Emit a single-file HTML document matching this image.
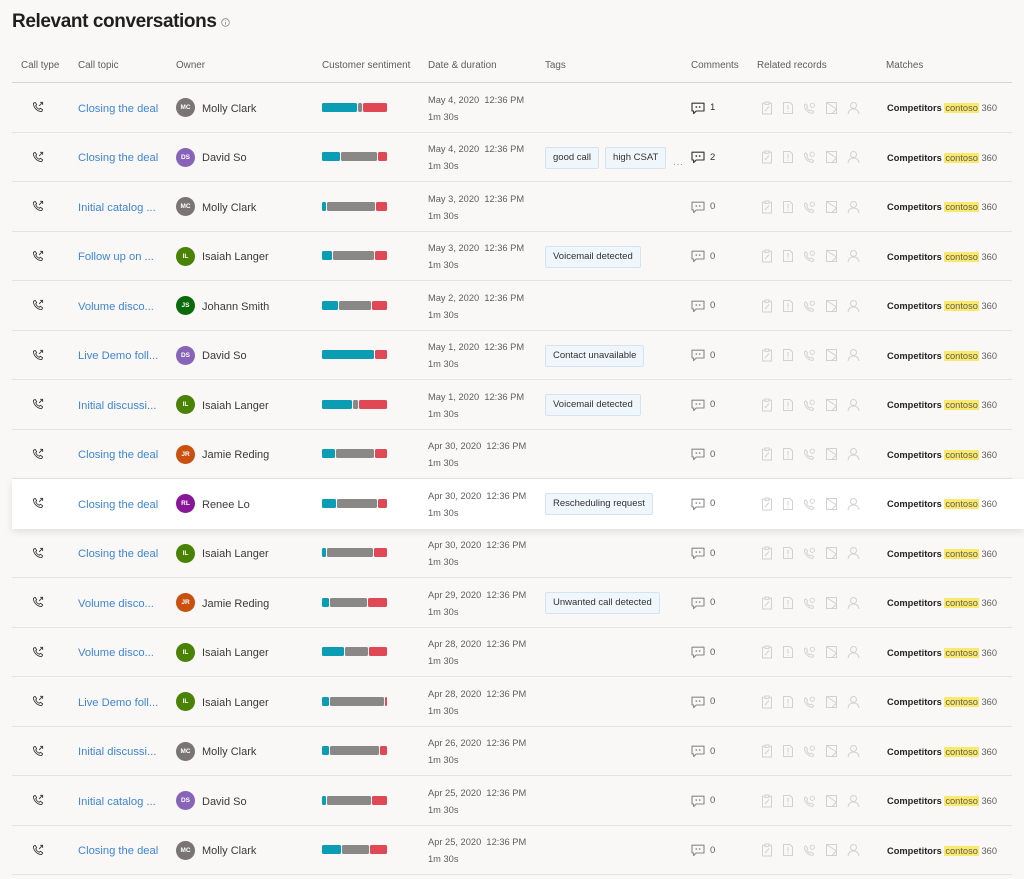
<!DOCTYPE html>
<html><head><meta charset="utf-8">
<style>
*{margin:0;padding:0;box-sizing:border-box}
html,body{width:1024px;height:879px;overflow:hidden;background:#f9f8f7;font-family:"Liberation Sans",Arial,sans-serif;color:#323130}
.title{position:absolute;left:12px;top:9px;font-size:19px;line-height:26px;font-weight:bold;letter-spacing:-0.4px;color:#201f1e}
.info{position:absolute;left:221px;top:18px}
.h{position:absolute;top:59px;font-size:9.9px;line-height:13px;color:#605e5c}
.hline{position:absolute;left:12px;top:82px;width:1000px;height:1px;background:#d6d4d2}
.r{position:absolute;left:12px;width:1000px;height:49.5px;border-bottom:1px solid #e6e4e2}
.r.sel{background:#fff;width:1012px;box-shadow:0 3px 7px rgba(0,0,0,0.10);z-index:2;border-bottom:none}
.ct{position:absolute;left:20px;top:18px}
.tp{position:absolute;left:66px;top:1.5px;line-height:49px;font-size:11.2px;color:#3f85d7;white-space:nowrap}
.av{position:absolute;left:164px;top:15px;width:19px;height:19px;border-radius:50%;color:#fff;font-size:6.5px;font-weight:bold;text-align:center;line-height:19px}
.nm{position:absolute;left:190px;top:1.5px;line-height:49px;font-size:11px;color:#3b3a39;white-space:nowrap}
.bar{position:absolute;left:310px;top:19.5px;height:9px;width:65px;display:flex;gap:1px}
.bar i{display:block;height:9px;border-radius:1.5px}
.t{background:#0a9db3}.g{background:#8a8886}.d{background:#e04856}
.dt{position:absolute;left:416px;top:8.5px;line-height:17px;font-size:9.3px;color:#605e5c;white-space:nowrap}
.tags{position:absolute;left:533px;top:14px;display:flex;gap:6px;align-items:center}
.tag{height:22px;line-height:20px;padding:0 7px;font-size:9.5px;color:#323130;background:#eff6fc;border:1px solid #d5e3f1;border-radius:2px;white-space:nowrap}
.more{font-size:9px;color:#8a8886;margin-left:1px;padding-top:8px;letter-spacing:1px}
.cm{position:absolute;left:679px;top:18px;font-size:9.5px;color:#605e5c;display:flex;align-items:center;gap:5px;line-height:14px}
.cm.dk{color:#323130}
.rr{position:absolute;left:749px;top:17.5px;display:flex;gap:9px}
.mt{position:absolute;left:875px;top:19px;font-size:9.3px;line-height:13px;color:#605e5c;white-space:nowrap}
.mt b{color:#252423}
.hl{background:#fbe96b;padding:0 1px}
</style></head><body>
<svg width="0" height="0" style="position:absolute">
<defs>
<symbol id="call" viewBox="0 0 16 16"><path d="M4.2 1.8 L6.3 4.8 L5 6.3 C5.8 8.4 7.6 10.2 9.7 11 L11.2 9.7 L14.2 11.8 L12.9 14.1 C7 14 2 9 1.9 3.1 Z" fill="none" stroke="#3b3a39" stroke-width="1.2" stroke-linejoin="round"/><path d="M9.5 6.5 L14.2 1.8 M10.8 1.8 H14.2 V5.2" fill="none" stroke="#3b3a39" stroke-width="1.2"/></symbol>
<symbol id="cmt" viewBox="0 0 14 13"><path d="M1 1.2 H13 V9 H5.2 L2.6 11.6 V9 H1 Z" fill="none" stroke="currentColor" stroke-width="1.1" stroke-linejoin="round"/><rect x="4.6" y="4.3" width="1.5" height="1.5" fill="currentColor"/><rect x="7.9" y="4.3" width="1.5" height="1.5" fill="currentColor"/></symbol>
<symbol id="i1" viewBox="0 0 12 14"><rect x="1.5" y="2.2" width="9" height="10.8" fill="none" stroke="#d3d1cf"/><rect x="4" y="1" width="4" height="2.4" fill="#f9f8f7" stroke="#d3d1cf"/><path d="M4 10 L8 5.5" stroke="#d3d1cf"/></symbol>
<symbol id="i2" viewBox="0 0 12 14"><path d="M1.5 1.5 H8 L10.5 4 V12.5 H1.5 Z" fill="none" stroke="#d3d1cf"/><path d="M6 4 V8.5" stroke="#d3d1cf"/><rect x="5.5" y="9.8" width="1" height="1" fill="#d3d1cf"/></symbol>
<symbol id="i3" viewBox="0 0 14 14"><path d="M3 2.5 L5 5.2 L4 6.5 C4.6 8.2 6 9.6 7.7 10.3 L9 9.3 L11.5 11 L10.5 12.8 C5.5 12.6 1.5 8.6 1.5 3.6 Z" fill="none" stroke="#d3d1cf" stroke-linejoin="round"/><circle cx="10" cy="4" r="2.3" fill="none" stroke="#d3d1cf"/></symbol>
<symbol id="i4" viewBox="0 0 13 14"><rect x="1.5" y="1.5" width="10" height="11" fill="none" stroke="#d3d1cf"/><path d="M1.5 1.5 L11.5 8 M7 12.5 L11.5 8" fill="none" stroke="#d3d1cf"/></symbol>
<symbol id="i5" viewBox="0 0 13 14"><circle cx="6.5" cy="4.5" r="3" fill="none" stroke="#d3d1cf"/><path d="M1 13 C1.5 9.5 3.8 8 6.5 8 C9.2 8 11.5 9.5 12 13" fill="none" stroke="#d3d1cf"/></symbol>
</defs></svg>

<div class="title">Relevant conversations</div>
<svg class="info" width="9" height="9" viewBox="0 0 9 9"><circle cx="4.5" cy="4.5" r="3.8" fill="none" stroke="#8a8886" stroke-width="0.8"/><path d="M4.5 4 V6.6" stroke="#8a8886" stroke-width="0.8"/><rect x="4.1" y="2.3" width="0.8" height="0.8" fill="#8a8886"/></svg>

<div class="h" style="left:21px">Call type</div>
<div class="h" style="left:78px">Call topic</div>
<div class="h" style="left:176px">Owner</div>
<div class="h" style="left:322px">Customer sentiment</div>
<div class="h" style="left:428px">Date &amp; duration</div>
<div class="h" style="left:545px">Tags</div>
<div class="h" style="left:691px">Comments</div>
<div class="h" style="left:757px">Related records</div>
<div class="h" style="left:886px">Matches</div>
<div class="hline"></div>

<!-- Row 1 -->
<div class="r" style="top:83px">
<svg class="ct" width="12" height="12"><use href="#call"/></svg>
<span class="tp">Closing the deal</span>
<span class="av" style="background:#7a7574">MC</span><span class="nm">Molly Clark</span>
<div class="bar"><i class="t" style="width:35px"></i><i class="g" style="width:4px"></i><i class="d" style="width:24px"></i></div>
<div class="dt">May 4, 2020&nbsp; 12:36 PM<br>1m 30s</div>
<div class="cm dk"><svg width="14" height="13"><use href="#cmt"/></svg>1</div>
<div class="rr"><svg width="12" height="14"><use href="#i1"/></svg><svg width="12" height="14"><use href="#i2"/></svg><svg width="13" height="14"><use href="#i3"/></svg><svg width="13" height="14"><use href="#i4"/></svg><svg width="13" height="14"><use href="#i5"/></svg></div>
<div class="mt"><b>Competitors</b> <span class="hl">contoso</span> 360</div>
</div>

<!-- Row 2 -->
<div class="r" style="top:132.5px">
<svg class="ct" width="12" height="12"><use href="#call"/></svg>
<span class="tp">Closing the deal</span>
<span class="av" style="background:#8764b8">DS</span><span class="nm">David So</span>
<div class="bar"><i class="t" style="width:18px"></i><i class="g" style="width:36px"></i><i class="d" style="width:9px"></i></div>
<div class="dt">May 4, 2020&nbsp; 12:36 PM<br>1m 30s</div>
<div class="tags"><span class="tag">good call</span><span class="tag">high CSAT</span><span class="more">...</span></div>
<div class="cm dk"><svg width="14" height="13"><use href="#cmt"/></svg>2</div>
<div class="rr"><svg width="12" height="14"><use href="#i1"/></svg><svg width="12" height="14"><use href="#i2"/></svg><svg width="13" height="14"><use href="#i3"/></svg><svg width="13" height="14"><use href="#i4"/></svg><svg width="13" height="14"><use href="#i5"/></svg></div>
<div class="mt"><b>Competitors</b> <span class="hl">contoso</span> 360</div>
</div>

<!-- Row 3 -->
<div class="r" style="top:182px">
<svg class="ct" width="12" height="12"><use href="#call"/></svg>
<span class="tp">Initial catalog ...</span>
<span class="av" style="background:#7a7574">MC</span><span class="nm">Molly Clark</span>
<div class="bar"><i class="t" style="width:4px"></i><i class="g" style="width:48px"></i><i class="d" style="width:11px"></i></div>
<div class="dt">May 3, 2020&nbsp; 12:36 PM<br>1m 30s</div>
<div class="cm"><svg width="14" height="13" style="color:#8a8886"><use href="#cmt"/></svg>0</div>
<div class="rr"><svg width="12" height="14"><use href="#i1"/></svg><svg width="12" height="14"><use href="#i2"/></svg><svg width="13" height="14"><use href="#i3"/></svg><svg width="13" height="14"><use href="#i4"/></svg><svg width="13" height="14"><use href="#i5"/></svg></div>
<div class="mt"><b>Competitors</b> <span class="hl">contoso</span> 360</div>
</div>

<!-- Row 4 -->
<div class="r" style="top:231.5px">
<svg class="ct" width="12" height="12"><use href="#call"/></svg>
<span class="tp">Follow up on ...</span>
<span class="av" style="background:#498205">IL</span><span class="nm">Isaiah Langer</span>
<div class="bar"><i class="t" style="width:10px"></i><i class="g" style="width:41px"></i><i class="d" style="width:12px"></i></div>
<div class="dt">May 3, 2020&nbsp; 12:36 PM<br>1m 30s</div>
<div class="tags"><span class="tag">Voicemail detected</span></div>
<div class="cm"><svg width="14" height="13" style="color:#8a8886"><use href="#cmt"/></svg>0</div>
<div class="rr"><svg width="12" height="14"><use href="#i1"/></svg><svg width="12" height="14"><use href="#i2"/></svg><svg width="13" height="14"><use href="#i3"/></svg><svg width="13" height="14"><use href="#i4"/></svg><svg width="13" height="14"><use href="#i5"/></svg></div>
<div class="mt"><b>Competitors</b> <span class="hl">contoso</span> 360</div>
</div>

<!-- Row 5 -->
<div class="r" style="top:281px">
<svg class="ct" width="12" height="12"><use href="#call"/></svg>
<span class="tp">Volume disco...</span>
<span class="av" style="background:#0b6a0b">JS</span><span class="nm">Johann Smith</span>
<div class="bar"><i class="t" style="width:16px"></i><i class="g" style="width:32px"></i><i class="d" style="width:15px"></i></div>
<div class="dt">May 2, 2020&nbsp; 12:36 PM<br>1m 30s</div>
<div class="cm"><svg width="14" height="13" style="color:#8a8886"><use href="#cmt"/></svg>0</div>
<div class="rr"><svg width="12" height="14"><use href="#i1"/></svg><svg width="12" height="14"><use href="#i2"/></svg><svg width="13" height="14"><use href="#i3"/></svg><svg width="13" height="14"><use href="#i4"/></svg><svg width="13" height="14"><use href="#i5"/></svg></div>
<div class="mt"><b>Competitors</b> <span class="hl">contoso</span> 360</div>
</div>

<!-- Row 6 -->
<div class="r" style="top:330.5px">
<svg class="ct" width="12" height="12"><use href="#call"/></svg>
<span class="tp">Live Demo foll...</span>
<span class="av" style="background:#8764b8">DS</span><span class="nm">David So</span>
<div class="bar"><i class="t" style="width:52px"></i><i class="d" style="width:12px"></i></div>
<div class="dt">May 1, 2020&nbsp; 12:36 PM<br>1m 30s</div>
<div class="tags"><span class="tag">Contact unavailable</span></div>
<div class="cm"><svg width="14" height="13" style="color:#8a8886"><use href="#cmt"/></svg>0</div>
<div class="rr"><svg width="12" height="14"><use href="#i1"/></svg><svg width="12" height="14"><use href="#i2"/></svg><svg width="13" height="14"><use href="#i3"/></svg><svg width="13" height="14"><use href="#i4"/></svg><svg width="13" height="14"><use href="#i5"/></svg></div>
<div class="mt"><b>Competitors</b> <span class="hl">contoso</span> 360</div>
</div>

<!-- Row 7 -->
<div class="r" style="top:380px">
<svg class="ct" width="12" height="12"><use href="#call"/></svg>
<span class="tp">Initial discussi...</span>
<span class="av" style="background:#498205">IL</span><span class="nm">Isaiah Langer</span>
<div class="bar"><i class="t" style="width:30px"></i><i class="g" style="width:5px"></i><i class="d" style="width:28px"></i></div>
<div class="dt">May 1, 2020&nbsp; 12:36 PM<br>1m 30s</div>
<div class="tags"><span class="tag">Voicemail detected</span></div>
<div class="cm"><svg width="14" height="13" style="color:#8a8886"><use href="#cmt"/></svg>0</div>
<div class="rr"><svg width="12" height="14"><use href="#i1"/></svg><svg width="12" height="14"><use href="#i2"/></svg><svg width="13" height="14"><use href="#i3"/></svg><svg width="13" height="14"><use href="#i4"/></svg><svg width="13" height="14"><use href="#i5"/></svg></div>
<div class="mt"><b>Competitors</b> <span class="hl">contoso</span> 360</div>
</div>

<!-- Row 8 -->
<div class="r" style="top:429.5px">
<svg class="ct" width="12" height="12"><use href="#call"/></svg>
<span class="tp">Closing the deal</span>
<span class="av" style="background:#ca5010">JR</span><span class="nm">Jamie Reding</span>
<div class="bar"><i class="t" style="width:13px"></i><i class="g" style="width:38px"></i><i class="d" style="width:12px"></i></div>
<div class="dt">Apr 30, 2020&nbsp; 12:36 PM<br>1m 30s</div>
<div class="cm"><svg width="14" height="13" style="color:#8a8886"><use href="#cmt"/></svg>0</div>
<div class="rr"><svg width="12" height="14"><use href="#i1"/></svg><svg width="12" height="14"><use href="#i2"/></svg><svg width="13" height="14"><use href="#i3"/></svg><svg width="13" height="14"><use href="#i4"/></svg><svg width="13" height="14"><use href="#i5"/></svg></div>
<div class="mt"><b>Competitors</b> <span class="hl">contoso</span> 360</div>
</div>

<!-- Row 9 (selected) -->
<div class="r sel" style="top:479px">
<svg class="ct" width="12" height="12"><use href="#call"/></svg>
<span class="tp">Closing the deal</span>
<span class="av" style="background:#881798">RL</span><span class="nm">Renee Lo</span>
<div class="bar"><i class="t" style="width:14px"></i><i class="g" style="width:40px"></i><i class="d" style="width:9px"></i></div>
<div class="dt">Apr 30, 2020&nbsp; 12:36 PM<br>1m 30s</div>
<div class="tags"><span class="tag">Rescheduling request</span></div>
<div class="cm"><svg width="14" height="13" style="color:#8a8886"><use href="#cmt"/></svg>0</div>
<div class="rr"><svg width="12" height="14"><use href="#i1"/></svg><svg width="12" height="14"><use href="#i2"/></svg><svg width="13" height="14"><use href="#i3"/></svg><svg width="13" height="14"><use href="#i4"/></svg><svg width="13" height="14"><use href="#i5"/></svg></div>
<div class="mt"><b>Competitors</b> <span class="hl">contoso</span> 360</div>
</div>

<!-- Row 10 -->
<div class="r" style="top:528.5px">
<svg class="ct" width="12" height="12"><use href="#call"/></svg>
<span class="tp">Closing the deal</span>
<span class="av" style="background:#498205">IL</span><span class="nm">Isaiah Langer</span>
<div class="bar"><i class="t" style="width:4px"></i><i class="g" style="width:46px"></i><i class="d" style="width:13px"></i></div>
<div class="dt">Apr 30, 2020&nbsp; 12:36 PM<br>1m 30s</div>
<div class="cm"><svg width="14" height="13" style="color:#8a8886"><use href="#cmt"/></svg>0</div>
<div class="rr"><svg width="12" height="14"><use href="#i1"/></svg><svg width="12" height="14"><use href="#i2"/></svg><svg width="13" height="14"><use href="#i3"/></svg><svg width="13" height="14"><use href="#i4"/></svg><svg width="13" height="14"><use href="#i5"/></svg></div>
<div class="mt"><b>Competitors</b> <span class="hl">contoso</span> 360</div>
</div>

<!-- Row 11 -->
<div class="r" style="top:578px">
<svg class="ct" width="12" height="12"><use href="#call"/></svg>
<span class="tp">Volume disco...</span>
<span class="av" style="background:#ca5010">JR</span><span class="nm">Jamie Reding</span>
<div class="bar"><i class="t" style="width:7px"></i><i class="g" style="width:37px"></i><i class="d" style="width:19px"></i></div>
<div class="dt">Apr 29, 2020&nbsp; 12:36 PM<br>1m 30s</div>
<div class="tags"><span class="tag">Unwanted call detected</span></div>
<div class="cm"><svg width="14" height="13" style="color:#8a8886"><use href="#cmt"/></svg>0</div>
<div class="rr"><svg width="12" height="14"><use href="#i1"/></svg><svg width="12" height="14"><use href="#i2"/></svg><svg width="13" height="14"><use href="#i3"/></svg><svg width="13" height="14"><use href="#i4"/></svg><svg width="13" height="14"><use href="#i5"/></svg></div>
<div class="mt"><b>Competitors</b> <span class="hl">contoso</span> 360</div>
</div>

<!-- Row 12 -->
<div class="r" style="top:627.5px">
<svg class="ct" width="12" height="12"><use href="#call"/></svg>
<span class="tp">Volume disco...</span>
<span class="av" style="background:#498205">IL</span><span class="nm">Isaiah Langer</span>
<div class="bar"><i class="t" style="width:22px"></i><i class="g" style="width:23px"></i><i class="d" style="width:18px"></i></div>
<div class="dt">Apr 28, 2020&nbsp; 12:36 PM<br>1m 30s</div>
<div class="cm"><svg width="14" height="13" style="color:#8a8886"><use href="#cmt"/></svg>0</div>
<div class="rr"><svg width="12" height="14"><use href="#i1"/></svg><svg width="12" height="14"><use href="#i2"/></svg><svg width="13" height="14"><use href="#i3"/></svg><svg width="13" height="14"><use href="#i4"/></svg><svg width="13" height="14"><use href="#i5"/></svg></div>
<div class="mt"><b>Competitors</b> <span class="hl">contoso</span> 360</div>
</div>

<!-- Row 13 -->
<div class="r" style="top:677px">
<svg class="ct" width="12" height="12"><use href="#call"/></svg>
<span class="tp">Live Demo foll...</span>
<span class="av" style="background:#498205">IL</span><span class="nm">Isaiah Langer</span>
<div class="bar"><i class="t" style="width:7px"></i><i class="g" style="width:54px"></i><i class="d" style="width:2px"></i></div>
<div class="dt">Apr 28, 2020&nbsp; 12:36 PM<br>1m 30s</div>
<div class="cm"><svg width="14" height="13" style="color:#8a8886"><use href="#cmt"/></svg>0</div>
<div class="rr"><svg width="12" height="14"><use href="#i1"/></svg><svg width="12" height="14"><use href="#i2"/></svg><svg width="13" height="14"><use href="#i3"/></svg><svg width="13" height="14"><use href="#i4"/></svg><svg width="13" height="14"><use href="#i5"/></svg></div>
<div class="mt"><b>Competitors</b> <span class="hl">contoso</span> 360</div>
</div>

<!-- Row 14 -->
<div class="r" style="top:726.5px">
<svg class="ct" width="12" height="12"><use href="#call"/></svg>
<span class="tp">Initial discussi...</span>
<span class="av" style="background:#7a7574">MC</span><span class="nm">Molly Clark</span>
<div class="bar"><i class="t" style="width:7px"></i><i class="g" style="width:49px"></i><i class="d" style="width:7px"></i></div>
<div class="dt">Apr 26, 2020&nbsp; 12:36 PM<br>1m 30s</div>
<div class="cm"><svg width="14" height="13" style="color:#8a8886"><use href="#cmt"/></svg>0</div>
<div class="rr"><svg width="12" height="14"><use href="#i1"/></svg><svg width="12" height="14"><use href="#i2"/></svg><svg width="13" height="14"><use href="#i3"/></svg><svg width="13" height="14"><use href="#i4"/></svg><svg width="13" height="14"><use href="#i5"/></svg></div>
<div class="mt"><b>Competitors</b> <span class="hl">contoso</span> 360</div>
</div>

<!-- Row 15 -->
<div class="r" style="top:776px">
<svg class="ct" width="12" height="12"><use href="#call"/></svg>
<span class="tp">Initial catalog ...</span>
<span class="av" style="background:#8764b8">DS</span><span class="nm">David So</span>
<div class="bar"><i class="t" style="width:4px"></i><i class="g" style="width:44px"></i><i class="d" style="width:15px"></i></div>
<div class="dt">Apr 25, 2020&nbsp; 12:36 PM<br>1m 30s</div>
<div class="cm"><svg width="14" height="13" style="color:#8a8886"><use href="#cmt"/></svg>0</div>
<div class="rr"><svg width="12" height="14"><use href="#i1"/></svg><svg width="12" height="14"><use href="#i2"/></svg><svg width="13" height="14"><use href="#i3"/></svg><svg width="13" height="14"><use href="#i4"/></svg><svg width="13" height="14"><use href="#i5"/></svg></div>
<div class="mt"><b>Competitors</b> <span class="hl">contoso</span> 360</div>
</div>

<!-- Row 16 -->
<div class="r" style="top:825.5px">
<svg class="ct" width="12" height="12"><use href="#call"/></svg>
<span class="tp">Closing the deal</span>
<span class="av" style="background:#7a7574">MC</span><span class="nm">Molly Clark</span>
<div class="bar"><i class="t" style="width:19px"></i><i class="g" style="width:27px"></i><i class="d" style="width:17px"></i></div>
<div class="dt">Apr 25, 2020&nbsp; 12:36 PM<br>1m 30s</div>
<div class="cm"><svg width="14" height="13" style="color:#8a8886"><use href="#cmt"/></svg>0</div>
<div class="rr"><svg width="12" height="14"><use href="#i1"/></svg><svg width="12" height="14"><use href="#i2"/></svg><svg width="13" height="14"><use href="#i3"/></svg><svg width="13" height="14"><use href="#i4"/></svg><svg width="13" height="14"><use href="#i5"/></svg></div>
<div class="mt"><b>Competitors</b> <span class="hl">contoso</span> 360</div>
</div>

</body></html>
